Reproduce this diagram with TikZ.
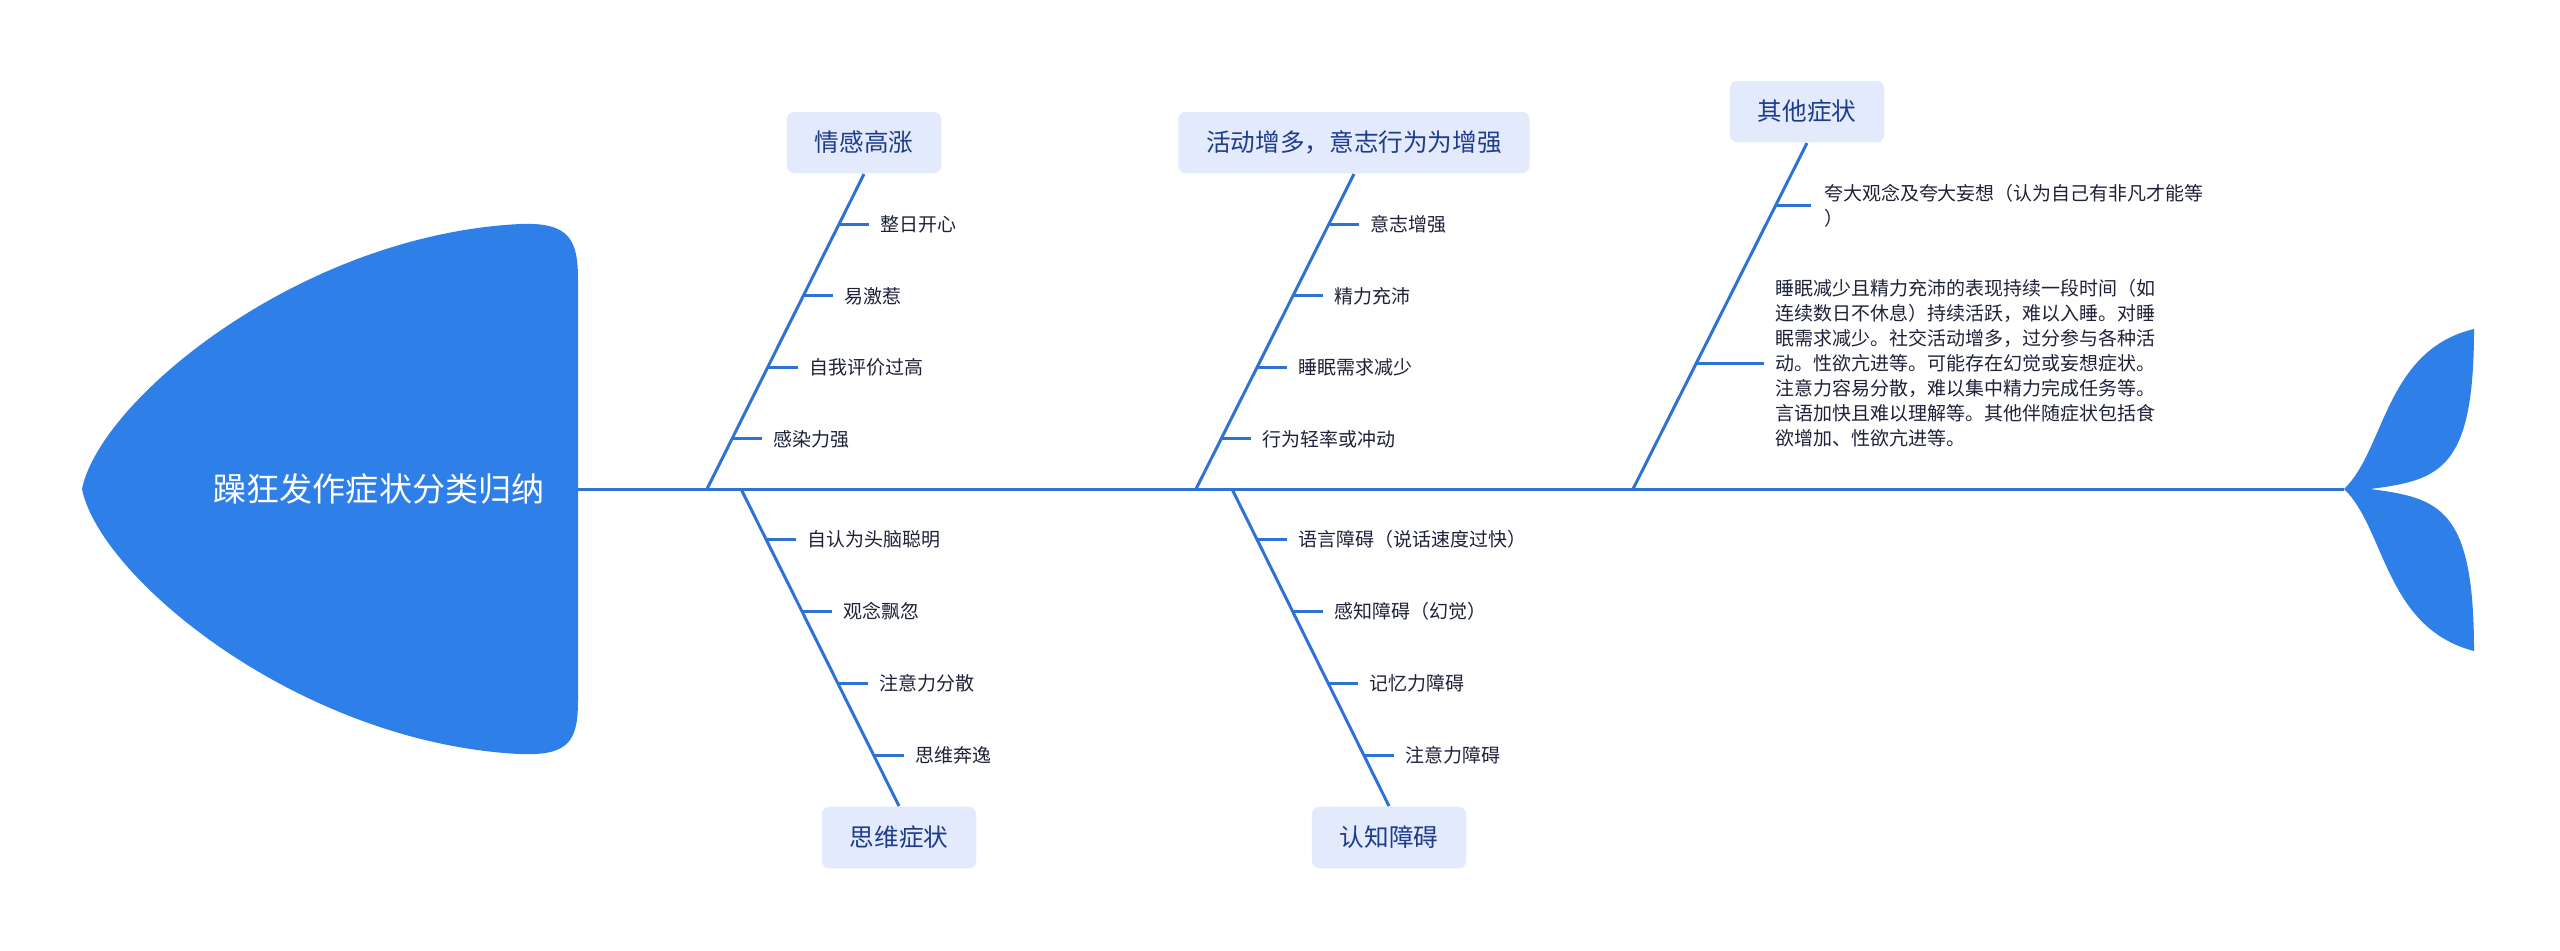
\documentclass[tikz,border=0pt]{standalone}
\usepackage{fontspec}
\setmainfont{Noto Sans CJK SC}
\usepackage{xcolor}
\usepackage{tikz}
\usetikzlibrary{positioning}
\usetikzlibrary{calc}
\definecolor{fishblue}{HTML}{2F7FE8}
\definecolor{bonecol}{HTML}{2E72D4}
\definecolor{boxfill}{HTML}{E2EAFB}
\definecolor{boxtext}{HTML}{1E3C8C}
\definecolor{itemtext}{HTML}{1E2238}

\begin{document}
\begin{tikzpicture}[x=0.01cm,y=-0.01cm,
  bone/.style={draw=bonecol,line width=0.85pt},
  cat node/.style={fill=boxfill,rounded corners=2.2pt,inner xsep=2.8mm,minimum height=6.15mm,
    text=boxtext,font=\fontsize{7}{8.4}\selectfont},
  item node/.style={inner sep=0pt,text=itemtext,font=\fontsize{5.4}{7.1}\selectfont,align=left}]
  \useasboundingbox (0,0) rectangle (2560,950);

  % head and tail
  \fill[fishblue] (82,489) .. controls (100,400) and (300,235) .. (520,224)
    .. controls (570,222) and (578,240) .. (578,280) -- (578,700)
    .. controls (578,740) and (570,756) .. (520,754)
    .. controls (300,743) and (100,578) .. (82,489) -- cycle;
  \node[text=white,font=\fontsize{9.4}{11}\selectfont] (head) at (379,489) {躁狂发作症状分类归纳};
  \fill[fishblue] (2344,489) .. controls (2385,450) and (2385,350) .. (2474,329)
    .. controls (2474,470) and (2440,480) .. (2370,489)
    .. controls (2440,498) and (2474,508) .. (2474,651)
    .. controls (2385,628) and (2385,528) .. (2344,489) -- cycle;

  \coordinate (headR) at (578,489);
  \coordinate (tailL) at (2344,489);
  \draw[bone] (headR) -- (tailL);

  % upper bones
  \node[cat node,anchor=south] (emo) at (864,174) {情感高涨};
  \coordinate (emoS) at (707,489);
  \draw[bone] (emoS) -- (emo.south);
  \foreach \f/\t [count=\i] in {0.841/整日开心,0.613/易激惹,0.387/自我评价过高,0.159/感染力强}{
    \coordinate (emoA\i) at ($(emoS)!\f!(emo.south)$);
    \coordinate (emoB\i) at ($(emoA\i)+(30,0)$);
    \draw[bone] (emoA\i) -- (emoB\i);
    \node[item node,right=1.1mm of emoB\i] (emoL\i) {\t};
  }

  \node[cat node,anchor=south] (act) at (1354,174) {活动增多，意志行为为增强};
  \coordinate (actS) at (1196,489);
  \draw[bone] (actS) -- (act.south);
  \foreach \f/\t [count=\i] in {0.841/意志增强,0.613/精力充沛,0.387/睡眠需求减少,0.159/行为轻率或冲动}{
    \coordinate (actA\i) at ($(actS)!\f!(act.south)$);
    \coordinate (actB\i) at ($(actA\i)+(30,0)$);
    \draw[bone] (actA\i) -- (actB\i);
    \node[item node,right=1.1mm of actB\i] (actL\i) {\t};
  }

  \node[cat node,anchor=south] (oth) at (1807,143) {其他症状};
  \coordinate (othS) at (1633,489);
  \draw[bone] (othS) -- (oth.south);
  \coordinate (othA1) at ($(othS)!0.818!(oth.south)$);
  \coordinate (othB1) at ($(othA1)+(36,0)$);
  \draw[bone] (othA1) -- (othB1);
  \node[item node,right=1.2mm of othB1] (othL1) {夸大观念及夸大妄想（认为自己有非凡才能等\\）};
  \coordinate (othA2) at ($(othS)!0.363!(oth.south)$);
  \coordinate (othB2) at ($(othA2)+(68,0)$);
  \draw[bone] (othA2) -- (othB2);
  \node[item node,right=1.1mm of othB2] (othL2) {睡眠减少且精力充沛的表现持续一段时间（如\\
    连续数日不休息）持续活跃，难以入睡。对睡\\
    眠需求减少。社交活动增多，过分参与各种活\\
    动。性欲亢进等。可能存在幻觉或妄想症状。\\
    注意力容易分散，难以集中精力完成任务等。\\
    言语加快且难以理解等。其他伴随症状包括食\\
    欲增加、性欲亢进等。};

  % lower bones
  \node[cat node,anchor=north] (thk) at (899,806) {思维症状};
  \coordinate (thkS) at (741,489);
  \draw[bone] (thkS) -- (thk.north);
  \foreach \f/\t [count=\i] in {0.159/自认为头脑聪明,0.387/观念飘忽,0.613/注意力分散,0.841/思维奔逸}{
    \coordinate (thkA\i) at ($(thkS)!\f!(thk.north)$);
    \coordinate (thkB\i) at ($(thkA\i)+(30,0)$);
    \draw[bone] (thkA\i) -- (thkB\i);
    \node[item node,right=1.1mm of thkB\i] (thkL\i) {\t};
  }

  \node[cat node,anchor=north] (cog) at (1389,806) {认知障碍};
  \coordinate (cogS) at (1232,489);
  \draw[bone] (cogS) -- (cog.north);
  \foreach \f/\t [count=\i] in {0.159/语言障碍（说话速度过快）,0.387/感知障碍（幻觉）,0.613/记忆力障碍,0.841/注意力障碍}{
    \coordinate (cogA\i) at ($(cogS)!\f!(cog.north)$);
    \coordinate (cogB\i) at ($(cogA\i)+(30,0)$);
    \draw[bone] (cogA\i) -- (cogB\i);
    \node[item node,right=1.1mm of cogB\i] (cogL\i) {\t};
  }
\end{tikzpicture}
\end{document}
